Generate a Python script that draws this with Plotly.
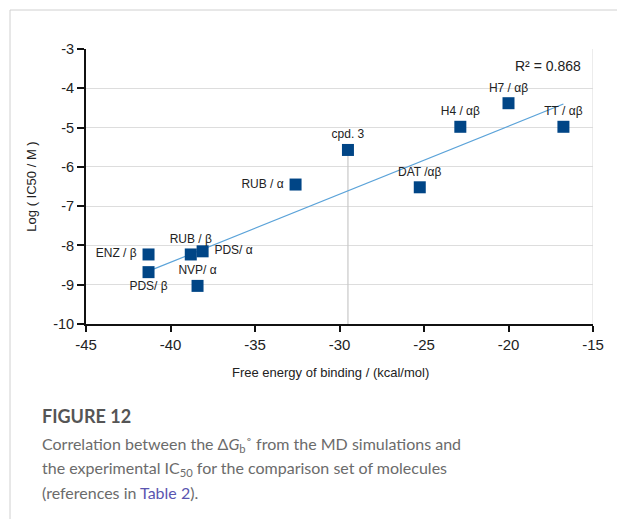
import numpy as np
import plotly.graph_objects as go

# ---- data ----
labels = ["ENZ / β", "PDS/ β", "RUB / β", "PDS/ α", "NVP/ α", "RUB / α",
          "cpd. 3", "DAT /αβ", "H4 / αβ", "H7 / αβ", "TT / αβ"]
free_energy = [-41.3, -41.3, -38.8, -38.1, -38.4, -32.6, -29.5, -25.25, -22.85, -20.0, -16.75]
log_ic50 = [-8.23, -8.68, -8.23, -8.15, -9.03, -6.45, -5.57, -6.52, -4.98, -4.38, -4.98]
label_pos = ["middle left", "bottom center", "top center", "middle right", "top center",
             "middle left", "top center", "top center", "top center", "top center", "top center"]
r2_text = "R² = 0.868"
x_ticks = [-45, -40, -35, -30, -25, -20, -15]
x_tick_text = ["-45", "-40", "-35", "-30", "-25", "-20", "-15"]
y_ticks = [-3, -4, -5, -6, -7, -8, -9, -10]
y_tick_text = ["-3", "-4", "-5", "-6", "-7", "-8", "-9", "-10"]

W, H = 617, 519
L, R, T, B = 86, 24, 49, 195
PH = H - T - B


def py(p):
    return (H - B - p) / PH


def px(p):
    return (p - L) / (W - L - R)


# linear trend (excluding the test compound cpd. 3)
fit_idx = [i for i, l in enumerate(labels) if l != "cpd. 3"]
fx = np.array([free_energy[i] for i in fit_idx])
fy = np.array([log_ic50[i] for i in fit_idx])
slope, intercept = np.polyfit(fx, fy, 1)
tx = np.array([min(free_energy), max(free_energy)])
ty = slope * tx + intercept

fig = go.Figure()

# vertical guide from cpd. 3 down to the x-axis
ci = labels.index("cpd. 3")
fig.add_trace(go.Scatter(x=[free_energy[ci], free_energy[ci]], y=[-10, log_ic50[ci]],
                         mode="lines", line=dict(color="#c8c8c8", width=1.2),
                         hoverinfo="skip", showlegend=False))

fig.add_trace(go.Scatter(x=tx, y=ty, mode="lines",
                         line=dict(color="#5ba3d9", width=1.2),
                         hoverinfo="skip", showlegend=False))

fig.add_trace(go.Scatter(x=free_energy, y=log_ic50, mode="markers+text",
                         text=[l + " " if p == "middle left" else (" " + l if p == "middle right" else l)
                               for l, p in zip(labels, label_pos)],
                         textposition=label_pos,
                         textfont=dict(family="Liberation Sans", size=12, color="#222"),
                         marker=dict(symbol="square", size=12, color="#004586"),
                         showlegend=False))

fig.add_annotation(x=-15.6, y=-3.43, xref="x", yref="y", text=r2_text, showarrow=False,
                   xanchor="right", yanchor="middle",
                   font=dict(family="Liberation Sans", size=14, color="#222"))

# x-axis title
fig.add_annotation(xref="paper", yref="paper", x=px(330), y=py(372),
                   text="Free energy of binding / (kcal/mol)", showarrow=False,
                   xanchor="center", yanchor="middle",
                   font=dict(family="Liberation Sans", size=13, color="#222"))

# right border of plot area
fig.add_shape(type="line", xref="x", yref="y", x0=-15, x1=-15, y0=-10, y1=-3,
              line=dict(color="#d9d9d9", width=1))
# card border
fig.add_shape(type="line", xref="paper", yref="paper", x0=px(10), x1=px(W + 5), y0=py(10), y1=py(10),
              line=dict(color="#d0d0d0", width=1))
fig.add_shape(type="line", xref="paper", yref="paper", x0=px(10), x1=px(10), y0=py(10), y1=py(H + 5),
              line=dict(color="#d0d0d0", width=1))

cap_font = dict(family="Lato", size=16, color="#6b6b6b")
fig.add_annotation(xref="paper", yref="paper", x=px(40), y=py(416), text="<b>FIGURE 12</b>",
                   showarrow=False, xanchor="left", yanchor="middle",
                   font=dict(family="Lato", size=18, color="#555555"))
cap_lines = [
    "Correlation between the Δ<i>G</i><sub>b</sub>˚ from the MD simulations and",
    "the experimental IC<sub>50</sub> for the comparison set of molecules",
    "(references in <span style='color:#5a55b0'>Table 2</span>).",
]
for i, line in enumerate(cap_lines):
    fig.add_annotation(xref="paper", yref="paper", x=px(40), y=py(444 + 24 * i), text=line,
                       showarrow=False, xanchor="left", yanchor="middle", font=cap_font)

fig.update_layout(
    width=W, height=H,
    margin=dict(l=L, r=R, t=T, b=B),
    paper_bgcolor="white", plot_bgcolor="white",
    font=dict(family="Liberation Sans", color="#222"),
    xaxis=dict(range=[-45, -15], tickvals=x_ticks, ticktext=x_tick_text, ticks="outside",
               ticklen=6, tickwidth=2,
               tickcolor="#111", showline=True, linecolor="#111", linewidth=2,
               showgrid=False, zeroline=False,
               tickfont=dict(family="Liberation Sans", size=15, color="#222")),
    yaxis=dict(range=[-10, -3], tickvals=y_ticks, ticktext=y_tick_text, ticks="outside",
               ticklen=7, tickwidth=2,
               tickcolor="#111", showline=True, linecolor="#111", linewidth=2,
               showgrid=True, gridcolor="#dddddd", gridwidth=1, zeroline=False,
               tickfont=dict(family="Liberation Sans", size=14.5, color="#222"),
               title=dict(text="Log ( IC50 / M )",
                          font=dict(family="Liberation Sans", size=13, color="#222"),
                          standoff=14)),
)

fig.write_html("out.html")
